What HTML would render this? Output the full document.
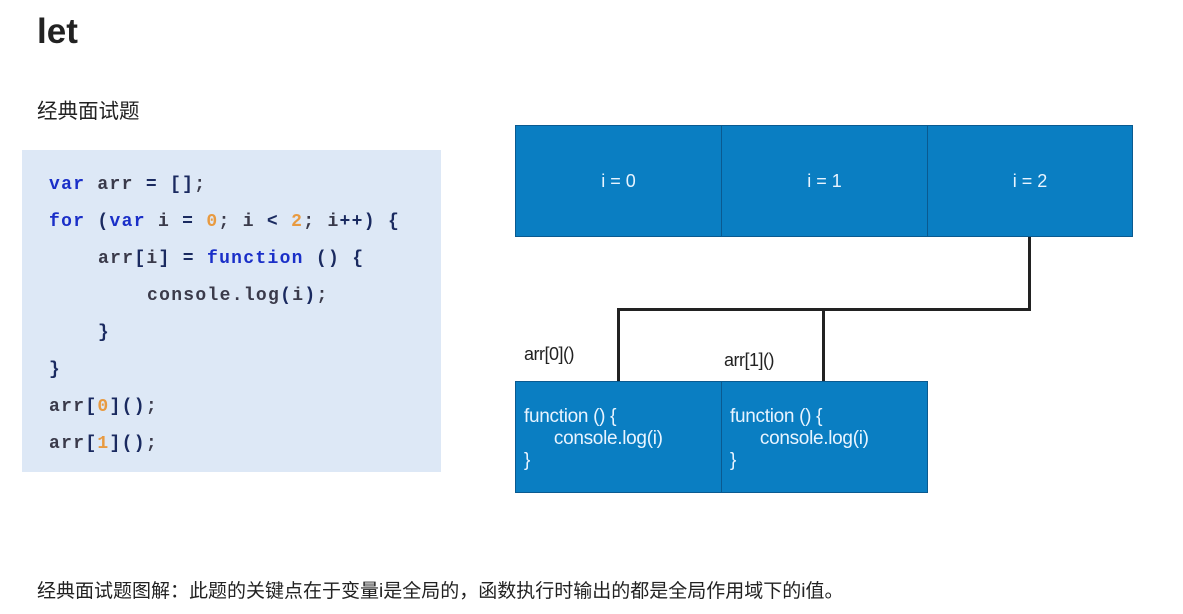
<!DOCTYPE html>
<html><head><meta charset="utf-8"><style>
body{margin:0;width:1183px;height:614px;background:#fff;position:relative;overflow:hidden;font-family:"Liberation Sans","Noto Sans CJK SC",sans-serif;}
.a{position:absolute;}
.code{left:22px;top:150px;width:419px;height:322px;background:#dde8f6;}
.ln{position:absolute;font-family:"Liberation Mono",monospace;font-size:18px;letter-spacing:1.3px;font-weight:bold;color:#3a3a4a;white-space:pre;}
.k{color:#1a2fc8}.n{color:#e89a40}.p{color:#1a2a60}
.cell{position:absolute;background:#0a7ec2;border:1px solid #0a5a90;box-sizing:border-box;color:#e8f4ff;}
.t{font-size:18px;text-align:center;line-height:110px;}
.f{font-size:19px;line-height:22px;padding:24px 0 0 8px;letter-spacing:-0.3px}
.ln2{position:absolute;background:#222;}
</style></head><body>
<div class="a" style="left:37px;top:12px;font-size:35px;font-weight:bold;color:#222">let</div>
<div class="a" style="left:37px;top:94px;font-size:20.5px;color:#222">经典面试题</div>
<div class="a code">
<div class="ln" style="left:27px;top:25px"><span class="k">var</span> arr <span class="p">=</span> <span class="p">[]</span>;</div>
<div class="ln" style="left:27px;top:62px"><span class="k">for</span> <span class="p">(</span><span class="k">var</span> i <span class="p">=</span> <span class="n">0</span>; i <span class="p">&lt;</span> <span class="n">2</span>; i<span class="p">++)</span> <span class="p">{</span></div>
<div class="ln" style="left:76px;top:99px">arr<span class="p">[</span>i<span class="p">]</span> <span class="p">=</span> <span class="k">function</span> <span class="p">()</span> <span class="p">{</span></div>
<div class="ln" style="left:125px;top:136px">console.log<span class="p">(</span>i<span class="p">)</span>;</div>
<div class="ln p" style="left:76px;top:173px">}</div>
<div class="ln p" style="left:27px;top:210px">}</div>
<div class="ln" style="left:27px;top:247px">arr<span class="p">[</span><span class="n">0</span><span class="p">]()</span>;</div>
<div class="ln" style="left:27px;top:284px">arr<span class="p">[</span><span class="n">1</span><span class="p">]()</span>;</div>
</div>
<div class="cell t" style="left:515px;top:125px;width:207px;height:112px">i = 0</div>
<div class="cell t" style="left:721px;top:125px;width:207px;height:112px">i = 1</div>
<div class="cell t" style="left:927px;top:125px;width:206px;height:112px">i = 2</div>
<div class="ln2" style="left:1028px;top:237px;width:3px;height:73px"></div>
<div class="ln2" style="left:617px;top:308px;width:414px;height:3px"></div>
<div class="ln2" style="left:617px;top:308px;width:3px;height:74px"></div>
<div class="ln2" style="left:822px;top:308px;width:3px;height:74px"></div>
<div class="a" style="left:524px;top:344px;font-size:18px;color:#222;letter-spacing:-0.5px">arr[0]()</div>
<div class="a" style="left:724px;top:350px;font-size:18px;color:#222;letter-spacing:-0.5px">arr[1]()</div>
<div class="cell f" style="left:515px;top:381px;width:207px;height:112px">function () {<br>&nbsp;&nbsp;&nbsp;&nbsp;&nbsp;&nbsp;console.log(i)<br>}</div>
<div class="cell f" style="left:721px;top:381px;width:207px;height:112px">function () {<br>&nbsp;&nbsp;&nbsp;&nbsp;&nbsp;&nbsp;console.log(i)<br>}</div>
<div class="a" style="left:37px;top:576px;font-size:19px;color:#222">经典面试题图解：此题的关键点在于变量i是全局的，函数执行时输出的都是全局作用域下的i值。</div>
</body></html>
